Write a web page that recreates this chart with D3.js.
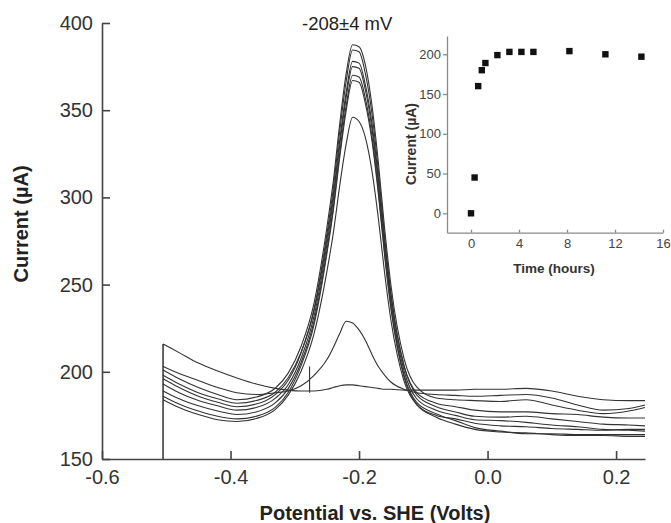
<!DOCTYPE html>
<html>
<head>
<meta charset="utf-8">
<script src="https://cdn.jsdelivr.net/npm/d3@7"></script>
<style>
body { margin: 0; background: #fff; }
svg { font-family: "Liberation Sans", Arial, sans-serif; }
</style>
</head>
<body>
<div id="chart"></div>
<script>
// potentials (V vs SHE) shared by every scan
var potential = [-0.505, -0.48, -0.45, -0.42, -0.39, -0.36, -0.33, -0.31, -0.29, -0.27, -0.25, -0.24, -0.23, -0.22, -0.21, -0.2,
    -0.19, -0.18, -0.17, -0.16, -0.15, -0.13, -0.11, -0.08, -0.05, -0.02, 0.02, 0.06, 0.1, 0.14, 0.18, 0.22, 0.245];

// current (uA) of each scan at those potentials
var scanFlat = [216, 211, 205, 200.5, 196.5, 193, 190.5, 189.5, 189, 189, 190, 191, 192, 192.5, 192.5, 192,
    191.5, 191, 190.5, 190, 190, 189.5, 189.5, 189.5, 189.5, 190, 190, 190.5, 189, 186, 184, 183.5, 183.5];
var scanSmall = [203, 199, 195, 191, 188, 187, 188, 189, 192, 198, 207, 214, 222, 229, 228, 224,
    218, 210, 203, 198, 194, 190, 188, 187, 186.5, 186, 186.5, 187, 185, 181, 178, 179, 181];
var scan387 = [201, 196, 191, 187, 184, 185.5, 190.7, 199.4, 214.8, 239.4, 282.9, 309.5, 342.4, 371.1, 387.5, 386.4,
    375.7, 353.1, 320.3, 281.4, 248.6, 207.6, 191.2, 185, 184, 183.5, 183, 184, 181, 178, 176, 177.5, 179.5];
var scan385 = [196, 191, 186, 182.5, 180, 181.5, 187.1, 195.3, 211.1, 236.1, 278.9, 305.4, 338.1, 366.6, 384.5, 383.5,
    370.7, 348.3, 315.6, 276.9, 244.2, 203.4, 186.6, 180, 177, 174.5, 174, 174.5, 173, 171.5, 170, 169.5, 169];
var scan378 = [198, 193, 188, 184.5, 182, 183.5, 188.4, 196.7, 211.4, 234.9, 276.1, 301.6, 332.9, 360.4, 378, 377,
    364.3, 342.7, 311.4, 274.1, 242.8, 203.6, 187.9, 182, 180, 178, 177, 177, 176, 175.5, 174, 173.5, 173.5];
var scan375 = [193, 188, 183.5, 180.5, 178, 179.5, 184.9, 192.7, 207.9, 231.9, 273.1, 298.6, 329.9, 357.4, 375, 374,
    361.3, 339.7, 308.4, 271.1, 239.8, 200.6, 184.4, 178, 175, 172.5, 172, 171, 169.5, 168.5, 167, 166.5, 166];
var scan370 = [189, 184.5, 180.5, 177.5, 175.5, 177, 182.3, 190.5, 205.5, 229.1, 269.6, 294.7, 325.6, 352.6, 370, 369,
    356.5, 335.3, 304.4, 267.7, 236.8, 198.2, 182.3, 176, 172, 168, 166, 164.5, 164.5, 164, 164, 164, 164];
var scan367 = [186, 181.5, 177.5, 174.5, 173, 174.5, 179.7, 188.3, 203.7, 227.1, 267.7, 292.5, 323.1, 349.8, 367, 366,
    353.6, 332.6, 302.1, 265.8, 235.2, 197, 181.2, 174, 170, 167, 165.5, 165, 164, 163.5, 163.5, 163, 163];
var scan346 = [184, 179.5, 175.5, 172.5, 171.5, 173.2, 178.5, 186.8, 200.5, 221.9, 257.6, 279.7, 306.9, 330.7, 346, 343.5,
    334.1, 315.4, 288.2, 255.9, 228.7, 194.7, 181.1, 175, 173, 170.5, 169, 168.5, 167.5, 167, 166.5, 167, 167];

// vertical start of the sweep and the glitch on the first scan
var startV = [-0.505, -0.505];
var startI = [150, 216];
var spikeV = [-0.277, -0.277];
var spikeI = [188, 203];

var xTicks = [-0.6, -0.4, -0.2, 0, 0.2];
var yTicks = [150, 200, 250, 300, 350, 400];

// inset: peak current over time
var hours = [0, 0.3, 0.6, 0.9, 1.2, 2.2, 3.2, 4.2, 5.2, 8.2, 11.2, 14.2];
var peakCurrent = [0, 45, 160, 180, 189, 199, 203, 203, 203, 204, 200, 197];
var insetXTicks = [0, 4, 8, 12, 16];
var insetYTicks = [0, 50, 100, 150, 200];

var scans = [scanFlat, scanSmall, scan387, scan385, scan378, scan375, scan370, scan367, scan346];

var width = 671, height = 523;
var svg = d3.select("#chart").append("svg")
    .attr("width", width)
    .attr("height", height);

var x = d3.scaleLinear().domain([-0.6, 0.245]).range([102, 645]);
var y = d3.scaleLinear().domain([150, 400]).range([459, 23]);

//main axes
var gx = svg.append("g")
    .attr("transform", "translate(0,459)")
    .call(d3.axisBottom(x).tickValues(xTicks).tickFormat(function(d) { return d.toFixed(1); })
	  .tickSizeInner(-8).tickSizeOuter(0).tickPadding(11));
var gy = svg.append("g")
    .attr("transform", "translate(102,0)")
    .call(d3.axisLeft(y).tickValues(yTicks).tickSizeInner(-8).tickSizeOuter(0).tickPadding(9));

[gx, gy].forEach(function(g) {
    g.select(".domain").attr("stroke", "#444").attr("stroke-width", 1.6);
    g.selectAll(".tick line").attr("stroke", "#444").attr("stroke-width", 1.6);
    g.selectAll(".tick text").attr("font-size", 20).attr("fill", "#333")
	.attr("font-family", "Liberation Sans, Arial, sans-serif");
});

//scans
var line = d3.line()
    .x(function(d) { return x(d[0]); })
    .y(function(d) { return y(d[1]); })
    .curve(d3.curveMonotoneX);

svg.selectAll("path.scan")
    .data(scans)
    .enter().append("path")
    .attr("class", "scan")
    .attr("d", function(s) { return line(d3.zip(potential, s)); })
    .attr("fill", "none")
    .attr("stroke", "#333")
    .attr("stroke-width", 1.1);

var straight = d3.line()
    .x(function(d) { return x(d[0]); })
    .y(function(d) { return y(d[1]); });

svg.append("path")
    .attr("d", straight(d3.zip(startV, startI)))
    .attr("stroke", "#222").attr("stroke-width", 1.4).attr("fill", "none");
svg.append("path")
    .attr("d", straight(d3.zip(spikeV, spikeI)))
    .attr("stroke", "#333").attr("stroke-width", 1.1).attr("fill", "none");

//titles
svg.append("text")
    .attr("x", 375).attr("y", 520)
    .attr("text-anchor", "middle")
    .attr("font-size", 20).attr("font-weight", "bold").attr("fill", "#222")
    .text("Potential vs. SHE (Volts)");
svg.append("text")
    .attr("transform", "translate(28,224)rotate(-90)")
    .attr("text-anchor", "middle")
    .attr("font-size", 20).attr("font-weight", "bold").attr("fill", "#222")
    .text("Current (\u00b5A)");
svg.append("text")
    .attr("x", 302).attr("y", 30)
    .attr("font-size", 18.5).attr("fill", "#222")
    .text("-208\u00b14 mV");

//inset
var xi = d3.scaleLinear().domain([-2, 16]).range([447, 663]);
var yi = d3.scaleLinear().domain([-24.4, 223]).range([232.7, 36]);

var gxi = svg.append("g")
    .attr("transform", "translate(0,232.7)")
    .call(d3.axisBottom(xi).tickValues(insetXTicks).tickSizeInner(-3).tickSizeOuter(0).tickPadding(6));
var gyi = svg.append("g")
    .attr("transform", "translate(447,0)")
    .call(d3.axisLeft(yi).tickValues(insetYTicks).tickSizeInner(4).tickSizeOuter(0).tickPadding(2));

[gxi, gyi].forEach(function(g) {
    g.select(".domain").attr("stroke", "#8a8a8a").attr("stroke-width", 1.3);
    g.selectAll(".tick line").attr("stroke", "#8a8a8a").attr("stroke-width", 1.3);
    g.selectAll(".tick text").attr("font-size", 13).attr("fill", "#444")
	.attr("font-family", "Liberation Sans, Arial, sans-serif");
});

svg.selectAll("rect.pt")
    .data(d3.zip(hours, peakCurrent))
    .enter().append("rect")
    .attr("class", "pt")
    .attr("x", function(d) { return xi(d[0]) - 3.2; })
    .attr("y", function(d) { return yi(d[1]) - 3.2; })
    .attr("width", 6.4).attr("height", 6.4)
    .attr("fill", "#111");

svg.append("text")
    .attr("x", 554).attr("y", 273)
    .attr("text-anchor", "middle")
    .attr("font-size", 13.5).attr("font-weight", "bold").attr("fill", "#333")
    .text("Time (hours)");
svg.append("text")
    .attr("transform", "translate(416,144)rotate(-90)")
    .attr("text-anchor", "middle")
    .attr("font-size", 14).attr("font-weight", "bold").attr("fill", "#333")
    .text("Current (\u00b5A)");
</script>
</body>
</html>
